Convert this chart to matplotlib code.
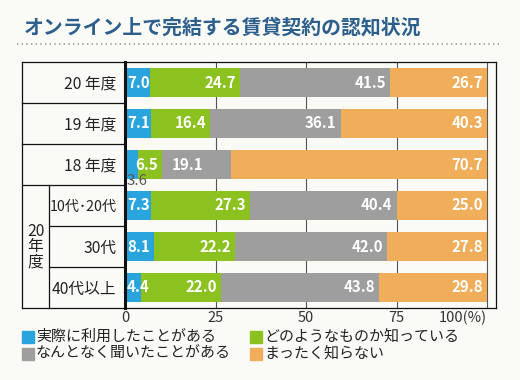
import matplotlib
matplotlib.use("Agg")
import matplotlib.pyplot as plt
from matplotlib.patches import Rectangle
from matplotlib.transforms import blended_transform_factory, offset_copy
import numpy as np

plt.rcParams['font.family'] = ['Noto Sans CJK JP', 'DejaVu Sans']

rows = ['20 年度', '19 年度', '18 年度', '10代･20代', '30代', '40代以上']
used = [7.0, 7.1, 3.6, 7.3, 8.1, 4.4]
know = [24.7, 16.4, 6.5, 27.3, 22.2, 22.0]
heard = [41.5, 36.1, 19.1, 40.4, 42.0, 43.8]
never = [26.7, 40.3, 70.7, 25.0, 27.8, 29.8]
series = [used, know, heard, never]
names = ['実際に利用したことがある', 'どのようなものか知っている',
         'なんとなく聞いたことがある', 'まったく知らない']
colors = ['#29a4dd', '#8cc220', '#9e9e9e', '#f0ae5b']
ticks = [0, 25, 50, 75, 100]
tick_labels = ['0', '25', '50', '75', '100(%)']

W, H = 520, 380
bg = '#fafaf6'
fig = plt.figure(figsize=(W / 100, H / 100), dpi=100, facecolor=bg)

def fx(p):
    return p / W

def fy(p):
    return 1 - p / H

# title + dotted rule
fig.text(fx(24), fy(27), 'オンライン上で完結する賃貸契約の認知状況', fontsize=14.3,
         color='#2c5f8c', fontweight='bold', ha='left', va='center')
fig.add_artist(plt.Line2D([fx(17), fx(500)], [fy(44), fy(44)], color='#999999',
                          lw=1.2, ls=(0, (0.8, 2.0)), transform=fig.transFigure))

ax_l, ax_r, ax_t, ax_b = 125, 496, 62, 308
ax = fig.add_axes([fx(ax_l), fy(ax_b), fx(ax_r - ax_l), (ax_b - ax_t) / H])
ax.set_facecolor(bg)

y = np.arange(len(rows))
left = np.zeros(len(rows))
for vals, c in zip(series, colors):
    ax.barh(y, vals, left=left, height=0.72, color=c, zorder=2)
    left += np.array(vals)

ax.set_xlim(0, (ax_r - ax_l) / 3.62)
ax.set_ylim(len(rows) - 0.5, -0.5)

# value labels
fs_val = 10.8
right_lab = offset_copy(ax.transData, fig=fig, x=-4, y=0, units='dots')
left_lab = offset_copy(ax.transData, fig=fig, x=2, y=0, units='dots')
left = np.zeros(len(rows))
for k, vals in enumerate(series):
    for i, v in enumerate(vals):
        txt = f'{v:.1f}'
        if k == 0 and v < 4:
            ax.text(0, i + 0.40, txt, transform=left_lab, color='#555555',
                    fontsize=fs_val, ha='left', va='center', zorder=3)
        elif k == 0:
            ax.text(0, i, txt, transform=left_lab, color='white', fontweight='bold',
                    fontsize=fs_val, ha='left', va='center', zorder=3)
        elif k == 2 and v < 25:
            ax.text(left[i], i, txt, color='white', fontsize=fs_val, ha='left', va='center', zorder=3,
                    fontweight='bold',
                    transform=offset_copy(ax.transData, fig=fig, x=10, y=0, units='dots'))
        else:
            ax.text(left[i] + v, i, txt, transform=right_lab, color='white', fontweight='bold',
                    fontsize=fs_val, ha='right', va='center', zorder=3)
    left += np.array(vals)

# axes cosmetics
ax.set_xticks(ticks)
ax.set_xticklabels(tick_labels, fontsize=10.5, color='#333333')
lab100 = ax.get_xticklabels()[-1]
lab100.set_ha('right')
lab100.set_transform(lab100.get_transform() + offset_copy(fig.dpi_scale_trans, fig=fig, x=10, y=0, units='dots') - fig.dpi_scale_trans)
ax.tick_params(axis='x', length=0, pad=2)
ax.set_yticks(y)
ax.set_yticklabels(rows, fontsize=11.3, color='#222222')
ax.get_yticklabels()[3].set_fontsize(10.2)
ax.tick_params(axis='y', length=0, pad=6)
ax.grid(axis='x', color='#555555', lw=0.8, zorder=0)
for s in ['top', 'right', 'bottom']:
    ax.spines[s].set_linewidth(0.9)
    ax.spines[s].set_color('#111111')
ax.spines['left'].set_linewidth(2.2)
ax.spines['left'].set_color('#111111')

# row table on the left
tr = blended_transform_factory(ax.transAxes, ax.transData)
x_out = (22 - ax_l) / (ax_r - ax_l)
x_grp = (49 - ax_l) / (ax_r - ax_l)
lk = dict(color='#111111', lw=0.9, transform=tr, clip_on=False)
ax.plot([x_out, 0], [-0.5, -0.5], **lk)
ax.plot([x_out, 0], [5.5, 5.5], **lk)
ax.plot([x_out, x_out], [-0.5, 5.5], **lk)
for b in [0.5, 1.5, 2.5]:
    ax.plot([x_out, 0], [b, b], **lk)
for b in [3.5, 4.5]:
    ax.plot([x_grp, 0], [b, b], **lk)
ax.plot([x_grp, x_grp], [2.5, 5.5], **lk)
ax.text((x_out + x_grp) / 2, 4, '20\n年\n度', transform=tr, ha='center', va='center',
        fontsize=11.3, color='#222222', linespacing=0.85)

# legend
for j, (nm, c) in enumerate(zip(names, colors)):
    col, row = j % 2, j // 2
    x0 = [22, 250][col]
    yc = [336.7, 353.7][row]
    fig.add_artist(Rectangle((fx(x0), fy(yc + 6)), fx(12), 12 / H, color=c,
                             transform=fig.transFigure))
    fig.text(fx(x0 + 14), fy(yc), nm, fontsize=10.8, color='#222222', ha='left', va='center')

fig.savefig('out.png', dpi=100, facecolor=bg)
